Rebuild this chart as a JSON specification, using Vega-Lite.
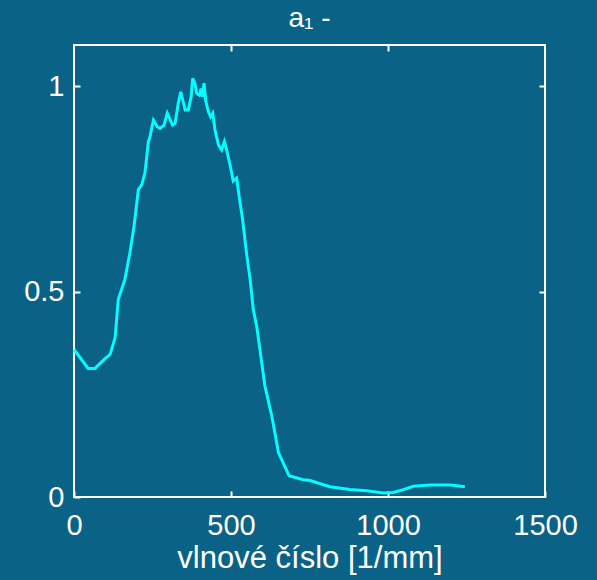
{
  "$schema": "https://vega.github.io/schema/vega-lite/v6.json",
  "width": 471,
  "height": 452,
  "autosize": "none",
  "padding": {"left": 74, "top": 45, "right": 52, "bottom": 83},
  "background": "#0b6287",
  "title": {"text": "a₁ -", "font": "Liberation Sans", "fontSize": 28, "fontWeight": "normal", "color": "white", "offset": 11},
  "config": {
    "view": {"stroke": "white", "strokeWidth": 2},
    "axis": {"domain": false, "grid": false, "tickColor": "white", "tickWidth": 2, "labelColor": "white", "titleColor": "white", "labelFont": "Liberation Sans", "titleFont": "Liberation Sans", "labelFontSize": 29, "titleFontSize": 31, "titleFontWeight": "normal"}
  },
  "data": {"values": [
    {"v": 0, "a": 0.359}, {"v": 45, "a": 0.313}, {"v": 67, "a": 0.313}, {"v": 96, "a": 0.335},
    {"v": 115, "a": 0.347}, {"v": 131, "a": 0.388}, {"v": 141, "a": 0.481}, {"v": 162, "a": 0.529},
    {"v": 178, "a": 0.594}, {"v": 191, "a": 0.658}, {"v": 205, "a": 0.748}, {"v": 216, "a": 0.760},
    {"v": 226, "a": 0.789}, {"v": 237, "a": 0.865}, {"v": 242, "a": 0.877}, {"v": 253, "a": 0.917},
    {"v": 265, "a": 0.901}, {"v": 274, "a": 0.897}, {"v": 287, "a": 0.905}, {"v": 297, "a": 0.934},
    {"v": 314, "a": 0.905}, {"v": 322, "a": 0.909}, {"v": 332, "a": 0.958}, {"v": 340, "a": 0.986},
    {"v": 354, "a": 0.942}, {"v": 364, "a": 0.942}, {"v": 373, "a": 0.974}, {"v": 378, "a": 1.019},
    {"v": 385, "a": 1.007}, {"v": 391, "a": 0.982}, {"v": 399, "a": 0.978}, {"v": 405, "a": 0.994},
    {"v": 409, "a": 0.974}, {"v": 414, "a": 1.007}, {"v": 420, "a": 0.962}, {"v": 428, "a": 0.938},
    {"v": 435, "a": 0.925}, {"v": 442, "a": 0.934}, {"v": 449, "a": 0.893}, {"v": 460, "a": 0.857},
    {"v": 470, "a": 0.845}, {"v": 479, "a": 0.865}, {"v": 486, "a": 0.845}, {"v": 497, "a": 0.808},
    {"v": 507, "a": 0.769}, {"v": 518, "a": 0.776}, {"v": 526, "a": 0.731}, {"v": 537, "a": 0.675},
    {"v": 550, "a": 0.590}, {"v": 561, "a": 0.529}, {"v": 571, "a": 0.456}, {"v": 582, "a": 0.415},
    {"v": 608, "a": 0.270}, {"v": 630, "a": 0.197}, {"v": 651, "a": 0.108}, {"v": 685, "a": 0.052},
    {"v": 730, "a": 0.042}, {"v": 752, "a": 0.040}, {"v": 815, "a": 0.025}, {"v": 879, "a": 0.018},
    {"v": 932, "a": 0.015}, {"v": 985, "a": 0.010}, {"v": 1017, "a": 0.011}, {"v": 1049, "a": 0.018},
    {"v": 1081, "a": 0.026}, {"v": 1134, "a": 0.029}, {"v": 1198, "a": 0.029}, {"v": 1245, "a": 0.025}
  ]},
  "resolve": {"axis": {"x": "independent", "y": "independent"}},
  "layer": [
    {
      "mark": {"type": "line", "color": "#00ffff", "strokeWidth": 3},
      "encoding": {
        "x": {"field": "v", "type": "quantitative", "scale": {"domain": [0, 1500], "nice": false, "zero": false},
              "axis": {"orient": "bottom", "values": [0, 500, 1000, 1500], "labelExpr": "'' + datum.value", "tickSize": -6, "labelPadding": 20, "title": "vlnové číslo [1/mm]", "titlePadding": 3, "labelFlush": false}},
        "y": {"field": "a", "type": "quantitative", "scale": {"domain": [0, 1.1], "nice": false},
              "axis": {"orient": "left", "values": [0, 0.5, 1], "labelExpr": "'' + datum.value", "tickSize": -6, "labelPadding": 16, "title": null, "labelFlush": false}}
      }
    },
    {
      "mark": {"type": "line", "opacity": 0},
      "encoding": {
        "x": {"field": "v", "type": "quantitative", "scale": {"domain": [0, 1500], "nice": false, "zero": false},
              "axis": {"orient": "top", "values": [500, 1000], "tickSize": -6, "labels": false, "title": null}},
        "y": {"field": "a", "type": "quantitative", "scale": {"domain": [0, 1.1], "nice": false},
              "axis": {"orient": "right", "values": [0.5, 1], "tickSize": -6, "labels": false, "title": null}}
      }
    }
  ]
}
